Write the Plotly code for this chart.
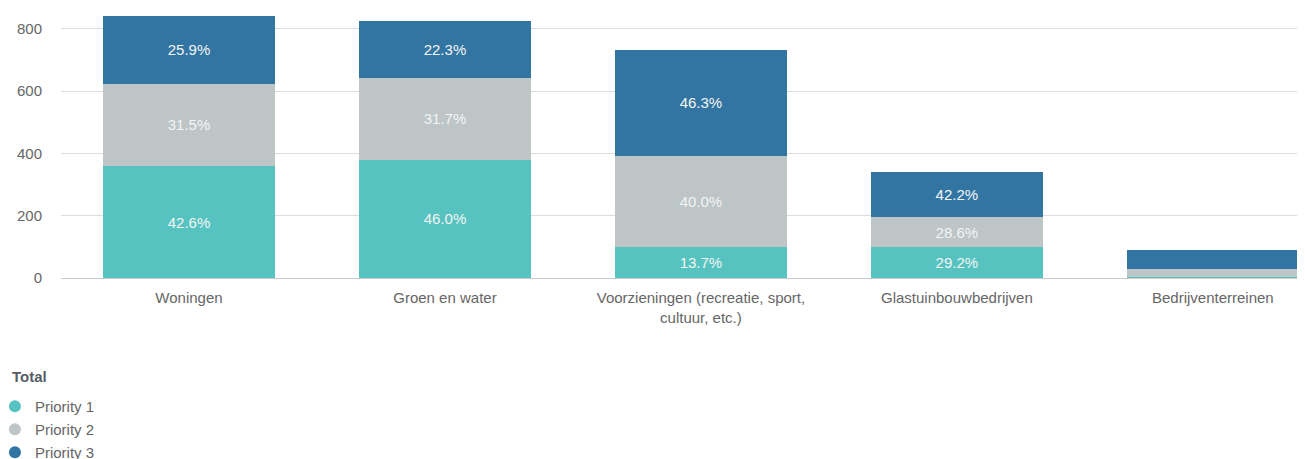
import plotly.graph_objects as go

categories = ["Woningen", "Groen en water", "Voorzieningen (recreatie, sport,<br>cultuur, etc.)",
              "Glastuinbouwbedrijven", "Bedrijventerreinen"]
priority1 = [359, 380, 100, 99, 2]
priority2 = [265, 262, 292, 97, 27]
priority3 = [218, 184, 341, 143, 61]
labels1 = ["42.6%", "46.0%", "13.7%", "29.2%", ""]
labels2 = ["31.5%", "31.7%", "40.0%", "28.6%", ""]
labels3 = ["25.9%", "22.3%", "46.3%", "42.2%", ""]
series_names = ["Priority 1", "Priority 2", "Priority 3"]
colors = ["#56c3c0", "#bdc5c7", "#3275a3"]

FONT = "Liberation Sans, Arial, sans-serif"
fig = go.Figure()
for name, vals, labs, col in zip(series_names, [priority1, priority2, priority3],
                                 [labels1, labels2, labels3], colors):
    fig.add_trace(go.Bar(
        x=categories, y=vals, name=name, marker=dict(color=col, line=dict(width=0)),
        text=labs, textposition="inside", insidetextanchor="middle",
        textfont=dict(color="#f4f4f4", size=15, family=FONT),
        showlegend=False, hoverinfo="skip", width=0.67,
    ))
for name, col in zip(series_names, colors):
    fig.add_trace(go.Scatter(
        x=[None], y=[None], mode="markers", name=name, legendgroup=name,
        marker=dict(color=col, size=11, symbol="circle"),
    ))

fig.add_annotation(
    text="<b>Total</b>", xref="paper", yref="paper", x=-0.041, y=-0.366,
    xanchor="left", yanchor="middle", showarrow=False,
    font=dict(size=15, color="#555e66", family=FONT),
)

fig.update_layout(
    width=1297, height=451,
    barmode="stack",
    plot_bgcolor="white", paper_bgcolor="white",
    margin=dict(l=53, r=0, t=2, b=181, autoexpand=False),
    font=dict(family=FONT, color="#666666", size=15),
    uniformtext=dict(mode="hide", minsize=12),
    xaxis=dict(range=[-0.5, 4.36], showgrid=False, showline=True, linecolor="#cccccc",
               linewidth=1, ticks="", ticklabelstandoff=6,
               tickfont=dict(size=15, color="#666666")),
    yaxis=dict(range=[0, 860], tickvals=[0, 200, 400, 600, 800], showgrid=True,
               gridcolor="#dddddd", gridwidth=1, zeroline=False, ticks="",
               ticklabelstandoff=18, tickfont=dict(size=15, color="#666666")),
    legend=dict(
        x=-0.0531, xanchor="left", y=-0.418, yanchor="top",
        orientation="v", tracegroupgap=0.5, itemsizing="constant",
        font=dict(size=15, color="#666666"),
    ),
)
fig.write_html("out.html")
